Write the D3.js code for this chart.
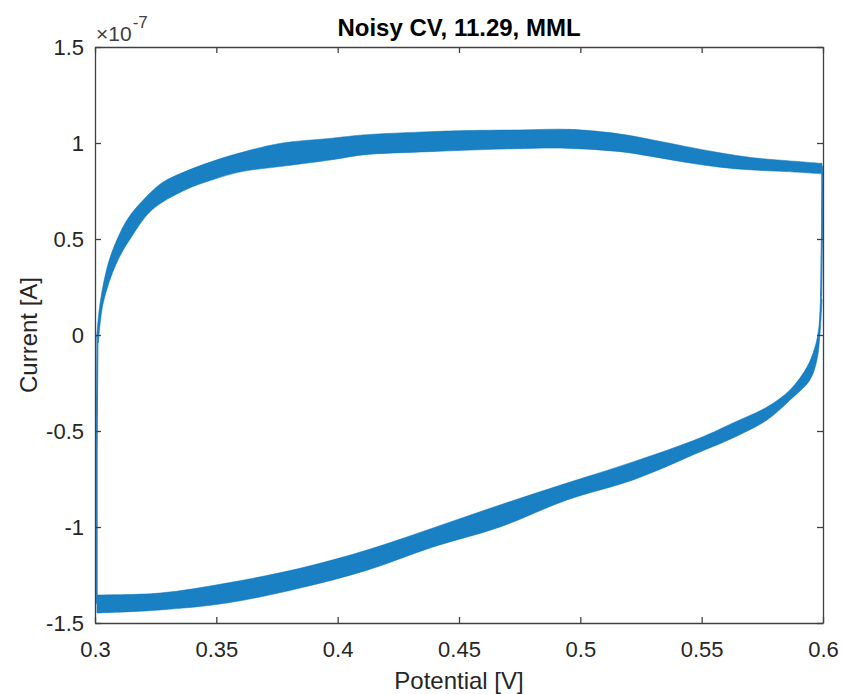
<!DOCTYPE html>
<html>
<head>
<meta charset="utf-8">
<script src="https://cdn.jsdelivr.net/npm/d3@7"></script>
<style>
  html, body { margin: 0; padding: 0; background: #ffffff; }
  svg { display: block; font-family: "Liberation Sans", Arial, Helvetica, sans-serif; }
</style>
</head>
<body>
<svg id="chart" width="843" height="694"></svg>
<script>
// ---------------- DATA (potential in V, current in units of 1e-7 A) ----------------
const xTicks = [0.3, 0.35, 0.4, 0.45, 0.5, 0.55, 0.6];
const xTickLabels = ["0.3", "0.35", "0.4", "0.45", "0.5", "0.55", "0.6"];
const yTicks = [-1.5, -1, -0.5, 0, 0.5, 1, 1.5];
const yTickLabels = ["-1.5", "-1", "-0.5", "0", "0.5", "1", "1.5"];

// Anodic (forward) sweep band: upper/outer edge
const fwdTopV = [0.3007, 0.3021, 0.3055, 0.3096, 0.3137, 0.3192, 0.3275, 0.3371, 0.3481, 0.3591, 0.3762, 0.3968, 0.4104, 0.4380, 0.4545, 0.4751, 0.4957, 0.5163, 0.5299, 0.5439, 0.5575, 0.5712, 0.5852, 0.5996];
const fwdTopI = [-0.009, 0.167, 0.375, 0.512, 0.609, 0.694, 0.792, 0.851, 0.903, 0.946, 0.998, 1.024, 1.042, 1.059, 1.065, 1.068, 1.071, 1.047, 1.016, 0.981, 0.949, 0.923, 0.908, 0.894];
// Anodic sweep band: lower/inner edge
const fwdBotV = [0.3014, 0.3034, 0.3089, 0.3151, 0.3234, 0.3371, 0.3481, 0.3605, 0.3762, 0.3968, 0.4104, 0.4380, 0.4793, 0.4957, 0.5163, 0.5299, 0.5439, 0.5575, 0.5712, 0.5852, 0.5996];
const fwdBotI = [-0.042, 0.167, 0.375, 0.512, 0.651, 0.755, 0.807, 0.851, 0.877, 0.911, 0.938, 0.955, 0.972, 0.972, 0.955, 0.929, 0.898, 0.874, 0.859, 0.851, 0.839];

// Cathodic (reverse) sweep band: upper edge
const revTopV = [0.5990, 0.5983, 0.5967, 0.5934, 0.5864, 0.5769, 0.5629, 0.5493, 0.5217, 0.4945, 0.4669, 0.4393, 0.4121, 0.3845, 0.3544, 0.3268, 0.3008];
const revTopI = [0.219, 0.042, -0.063, -0.167, -0.286, -0.375, -0.458, -0.536, -0.661, -0.771, -0.885, -1.005, -1.120, -1.215, -1.292, -1.344, -1.354];
// Cathodic sweep band: lower edge
const revBotV = [0.5996, 0.5988, 0.5975, 0.5946, 0.5864, 0.5769, 0.5629, 0.5493, 0.5217, 0.4945, 0.4669, 0.4393, 0.4121, 0.3845, 0.3544, 0.3268, 0.3008];
const revBotI = [0.182, 0.010, -0.130, -0.234, -0.339, -0.443, -0.536, -0.609, -0.755, -0.859, -1.000, -1.104, -1.225, -1.318, -1.396, -1.432, -1.448];

// Switching segments at the vertex potentials
const leftSwitchV = [0.3007, 0.3007, 0.3010];
const leftSwitchI = [-1.40, -0.60, 0.00];
const rightSwitchV = [0.5997, 0.5996, 0.5992];
const rightSwitchI = [0.88, 0.55, 0.20];

// ---------------- CHART ----------------
const svg = d3.select("#chart");
const margin = { left: 95, right: 20, top: 47, bottom: 71 };
const W = 843, H = 694;
const x = d3.scaleLinear().domain([0.3, 0.6]).range([margin.left, W - margin.right]);
const y = d3.scaleLinear().domain([-1.5, 1.5]).range([H - margin.bottom, margin.top]);

const blue = "#0072BD";
const axisColor = "#404040";
const textColor = "#262626";

// Bands: smooth edges joined into one closed outline
const edge = d3.line().x(d => x(d[0])).y(d => y(d[1])).curve(d3.curveCatmullRom.alpha(0.5));
function bandPath(tv, ti, bv, bi) {
  const top = tv.map((v, k) => [v, ti[k]]);
  const bot = bv.map((v, k) => [v, bi[k]]).reverse();
  return edge(top) + "L" + edge(bot).slice(1) + "Z";
}
const plot = svg.append("g");
[[fwdTopV, fwdTopI, fwdBotV, fwdBotI], [revTopV, revTopI, revBotV, revBotI]].forEach(b => {
  plot.append("path")
    .attr("d", bandPath(...b))
    .attr("fill", blue).attr("fill-opacity", 0.9)
    .attr("stroke", blue).attr("stroke-opacity", 0.5).attr("stroke-width", 1);
});

const line = d3.line().x(d => x(d[0])).y(d => y(d[1]));
plot.append("path")
  .attr("d", line(leftSwitchV.map((v, k) => [v, leftSwitchI[k]])))
  .attr("fill", "none").attr("stroke", "#2a86cc").attr("stroke-width", 2);
plot.append("path")
  .attr("d", line(rightSwitchV.map((v, k) => [v, rightSwitchI[k]])))
  .attr("fill", "none").attr("stroke", "#2a86cc").attr("stroke-width", 2);

// Axes
const tickLen = 6;
const fontTick = 22;
const gB = svg.append("g").attr("transform", `translate(0,${H - margin.bottom})`)
  .call(d3.axisBottom(x).tickValues(xTicks).tickFormat((d, i) => xTickLabels[i])
    .tickSizeInner(-tickLen).tickSizeOuter(0).tickPadding(18));
const gT = svg.append("g").attr("transform", `translate(0,${margin.top})`)
  .call(d3.axisTop(x).tickValues(xTicks).tickFormat("")
    .tickSizeInner(-tickLen).tickSizeOuter(0));
const gL = svg.append("g").attr("transform", `translate(${margin.left},0)`)
  .call(d3.axisLeft(y).tickValues(yTicks).tickFormat((d, i) => yTickLabels[i])
    .tickSizeInner(-tickLen).tickSizeOuter(0).tickPadding(11));
const gR = svg.append("g").attr("transform", `translate(${W - margin.right},0)`)
  .call(d3.axisRight(y).tickValues(yTicks).tickFormat("")
    .tickSizeInner(-tickLen).tickSizeOuter(0));

[gB, gT, gL, gR].forEach(g => {
  g.select(".domain").attr("stroke", axisColor).attr("stroke-width", 1.3);
  g.selectAll(".tick line").attr("stroke", axisColor).attr("stroke-width", 1.3);
  g.selectAll(".tick text").attr("fill", textColor).style("font-size", fontTick + "px")
    .style("font-family", '"Liberation Sans", Arial, sans-serif');
});

// Exponent label
const expo = svg.append("text").attr("x", margin.left + 1).attr("y", 41)
  .attr("fill", "#404040").style("font-size", "21px");
expo.append("tspan").text("\u00D710");
expo.append("tspan").attr("dx", 1).attr("dy", -13).style("font-size", "17px").text("-7");

// Title
svg.append("text").attr("x", (margin.left + W - margin.right) / 2).attr("y", 36)
  .attr("text-anchor", "middle").attr("fill", "#000")
  .style("font-size", "24px").style("font-weight", "bold")
  .text("Noisy CV, 11.29, MML");

// Axis labels
svg.append("text").attr("x", (margin.left + W - margin.right) / 2).attr("y", 689)
  .attr("text-anchor", "middle").attr("fill", textColor).style("font-size", "24px")
  .text("Potential [V]");
svg.append("text")
  .attr("transform", `translate(37,${(margin.top + H - margin.bottom) / 2}) rotate(-90)`)
  .attr("text-anchor", "middle").attr("fill", textColor).style("font-size", "24px")
  .text("Current [A]");
</script>
</body>
</html>
